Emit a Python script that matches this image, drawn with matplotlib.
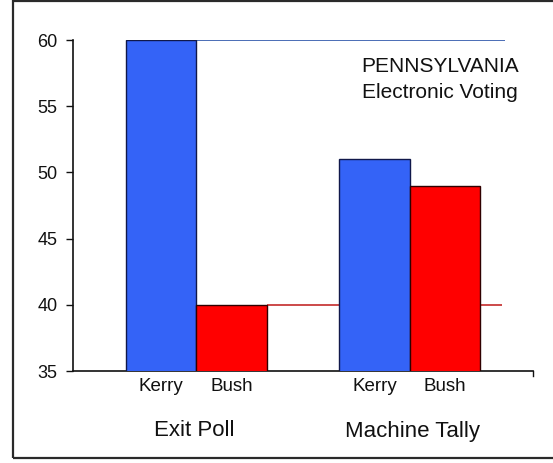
import numpy as np
import matplotlib
matplotlib.use("Agg")
import matplotlib.pyplot as plt
from matplotlib.patches import Rectangle

plt.rcParams["font.family"] = ["Liberation Sans", "DejaVu Sans"]

# ---------------------------------------------------------------- data
groups = ["Exit Poll", "Machine Tally"]
candidates = ["Kerry", "Bush"]
kerry = [60, 51]
bush = [40, 49]
ref_levels = [60, 40]          # reference lines: exit-poll Kerry / Bush
yticks = [35, 40, 45, 50, 55, 60]

BLUE, RED = "#3463f7", "#ff0000"

W, H = 553, 463
fig = plt.figure(figsize=(W / 100, H / 100), dpi=100)
# axes box in pixels: x 73..533, y 40..371
ax = fig.add_axes([73 / W, 1 - 371 / H, (533 - 73) / W, (371 - 40) / H])

# bar positions (bar width = 1)
gx = np.array([0.0, 3.03])
ax.bar(gx, kerry, width=1, color=BLUE, edgecolor="#10184a", lw=1, zorder=3)
ax.bar(gx + 1, bush, width=1, color=RED, edgecolor="#300000", lw=1, zorder=3)

# reference lines at exit-poll levels
ax.hlines(ref_levels[0], 0.5, 4.88, color="#4a6db5", lw=1.4, zorder=2)
ax.hlines(ref_levels[1], 1.5, 4.84, color="#c42a2a", lw=1.2, zorder=2)

ax.set_xlim(-1.25, 5.28)
ax.set_ylim(35, 60)
ax.set_yticks(yticks)
ax.tick_params(axis="y", direction="out", length=5, width=1, labelsize=13, pad=6,
               colors="#111111")
ax.set_xticks(np.concatenate([gx, gx + 1]))
ax.set_xticklabels([candidates[0]] * len(gx) + [candidates[1]] * len(gx))
ax.tick_params(axis="x", length=0, labelsize=13.5, pad=5, colors="#111111")
# small tick at the right end of the category axis
ax.plot([5.28, 5.28], [35, 34.6], color="#111111", lw=1, clip_on=False)

for s in ("top", "right"):
    ax.spines[s].set_visible(False)
for s in ("left", "bottom"):
    ax.spines[s].set_linewidth(1.2)
    ax.spines[s].set_color("#111111")

ax.text(440 / W, 1 - 66 / H, "PENNSYLVANIA", transform=fig.transFigure,
        ha="center", va="center", fontsize=15, color="#111111")
ax.text(440 / W, 1 - 93 / H, "Electronic Voting", transform=fig.transFigure,
        ha="center", va="center", fontsize=15, color="#111111")

fig.text(194 / W, 1 - 431 / H, groups[0], ha="center", va="center",
         fontsize=16, color="#111111")
fig.text(412 / W, 1 - 431 / H, groups[1], ha="center", va="center",
         fontsize=16, color="#111111")

# outer chart border (open on the right edge, as in the screenshot)
fig.patches.append(Rectangle((13 / W, 1 - 458 / H), 1.0, (458 - 1) / H,
                             transform=fig.transFigure, fill=False,
                             edgecolor="#2a2a2a", lw=1.6))

fig.savefig("out.png", dpi=100)
